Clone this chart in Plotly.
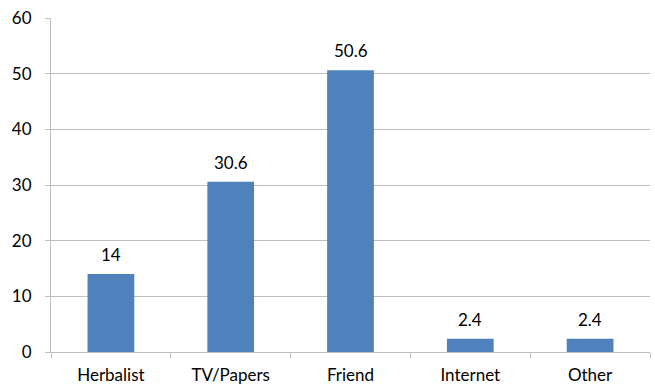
import plotly.graph_objects as go

# Source of information (percent of respondents)
categories = ["Herbalist", "TV/Papers", "Friend", "Internet", "Other"]
values = [14, 30.6, 50.6, 2.4, 2.4]
value_labels = ["14", "30.6", "50.6", "2.4", "2.4"]
y_ticks = [0, 10, 20, 30, 40, 50, 60]

FONT = "Lato, Liberation Sans, Arial, sans-serif"
GRID = "#bfbfbf"

fig = go.Figure(
    go.Bar(
        x=categories,
        y=values,
        marker=dict(color="#4f81bd", line=dict(width=0)),
        hoverinfo="x+y",
    )
)

# Value labels sitting above each bar
for cat, val, lab in zip(categories, values, value_labels):
    fig.add_annotation(
        x=cat,
        y=val,
        text=lab,
        showarrow=False,
        yanchor="bottom",
        yshift=7,
        font=dict(family=FONT, size=17, color="#000000"),
    )

fig.update_layout(
    width=655,
    height=385,
    margin=dict(l=51, r=5, t=18, b=33, autoexpand=False),
    paper_bgcolor="white",
    plot_bgcolor="white",
    bargap=0.61,
    showlegend=False,
    font=dict(family=FONT, size=17, color="#000000"),
)

fig.update_xaxes(
    automargin=False,
    showline=True,
    linecolor=GRID,
    linewidth=1,
    ticks="outside",
    ticklen=5,
    tickcolor=GRID,
    tickson="boundaries",
    showgrid=False,
    ticklabelstandoff=8,
    tickfont=dict(family=FONT, size=17, color="#000000"),
)

fig.update_yaxes(
    automargin=False,
    range=[0, 60],
    tickvals=y_ticks,
    showline=True,
    linecolor=GRID,
    linewidth=1,
    ticks="outside",
    ticklen=5,
    tickcolor=GRID,
    showgrid=True,
    gridcolor=GRID,
    gridwidth=1,
    zeroline=False,
    ticklabelstandoff=10,
    tickfont=dict(family=FONT, size=17, color="#000000"),
)

fig.write_html("out.html")
